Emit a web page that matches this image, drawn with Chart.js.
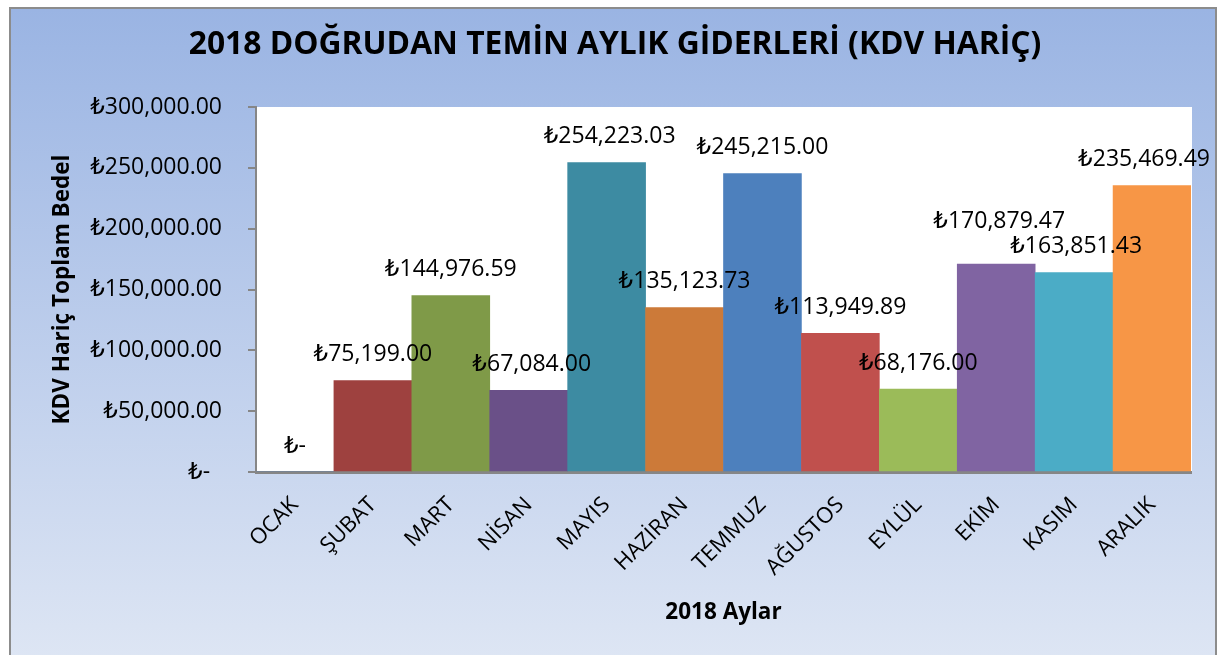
<!DOCTYPE html>
<html>
<head>
<meta charset="utf-8">
<script src="https://cdn.jsdelivr.net/npm/chart.js@4"></script>
<style>
  html, body { margin:0; padding:0; background:#ffffff; width:1220px; height:655px; overflow:hidden; }
  #frame { position:absolute; left:9px; top:7px; width:1208px; height:660px;
    border:2px solid #8c8c8c; box-sizing:border-box;
    background: linear-gradient(to bottom, #9ab4e3 0%, #dee6f4 100%); }
  #c { position:absolute; left:0; top:0; }
</style>
</head>
<body>
<div id="frame"></div>
<canvas id="c" width="1220" height="655"></canvas>
<script>
const months = ["OCAK","ŞUBAT","MART","NİSAN","MAYIS","HAZİRAN","TEMMUZ","AĞUSTOS","EYLÜL","EKİM","KASIM","ARALIK"];
const amounts = [0, 75199.00, 144976.59, 67084.00, 254223.03, 135123.73, 245215.00, 113949.89, 68176.00, 170879.47, 163851.43, 235469.49];
const barColors = ["#4f81bd","#9e413f","#7f9a48","#6a5088","#3d8ba2","#cc7a39","#4d80bd","#c0504d","#9bbb59","#8064a2","#4bacc6","#f79646"];
const chartTitle = "2018 DOĞRUDAN TEMİN AYLIK GİDERLERİ (KDV HARİÇ)";
const yTitle = "KDV Hariç Toplam Bedel";
const xTitle = "2018 Aylar";

const FONT = "'Open Sans', 'DejaVu Sans', sans-serif";
function tl(v) {
  if (v === 0) return "₺-";
  return "₺" + v.toLocaleString("en-US", {minimumFractionDigits:2, maximumFractionDigits:2});
}

// per-label nudges (pixels) to mimic manual placement
const labelNudge = { 9: {dx: 3, dy: -17}, 10: {dx: 2, dy: 0}, 11: {dx: -8, dy: 0}, 4: {dx: 3, dy: 0}, 3: {dx: 3, dy: 0} };

const dataLabels = {
  id: 'dataLabels',
  afterDatasetsDraw(chart) {
    const ctx = chart.ctx;
    const meta = chart.getDatasetMeta(0);
    ctx.save();
    ctx.font = "23px " + FONT;
    ctx.fillStyle = "#000";
    ctx.textAlign = "center";
    ctx.textBaseline = "middle";
    meta.data.forEach((bar, i) => {
      const n = labelNudge[i] || {dx:0, dy:0};
      ctx.fillText(tl(amounts[i]), bar.x + n.dx, bar.y - 26 + n.dy);
    });
    ctx.restore();
  }
};

const titlePlugin = {
  id: 'chartTitle',
  afterDraw(chart) {
    const ctx = chart.ctx;
    ctx.save();
    ctx.font = "bold 31.8px " + FONT;
    ctx.fillStyle = "#000";
    ctx.textAlign = "center";
    ctx.textBaseline = "middle";
    ctx.fillText(chartTitle, 615, 45);
    ctx.restore();
  }
};

new Chart(document.getElementById('c'), {
  type: 'bar',
  data: {
    labels: months,
    datasets: [{
      data: amounts,
      backgroundColor: barColors,
      borderWidth: 0,
      categoryPercentage: 1.0,
      barPercentage: 1.0
    }]
  },
  options: {
    responsive: false,
    animation: false,
    layout: { padding: { left: 0, right: 29, top: 107, bottom: 0 } },
    plugins: {
      legend: { display: false },
      tooltip: { enabled: false },
      title: { display: false }
    },
    scales: {
      x: {
        grid: { display: false, drawTicks: false },
        border: { display: true, color: "#868686", width: 3 },
        ticks: {
          color: "#000",
          font: { family: FONT, size: 22 },
          minRotation: 45, maxRotation: 45,
          padding: 20,
          autoSkip: false
        },
        title: {
          display: true, text: xTitle, color: "#000",
          font: { family: FONT, size: 22.5, weight: 'bold' },
          padding: { top: 0, bottom: 29 }
        },
        afterFit(scale) { scale.height = 183; }
      },
      y: {
        min: 0, max: 300000,
        grid: { drawOnChartArea: false, drawTicks: true, tickLength: 8, color: "#868686", lineWidth: 2 },
        border: { display: true, color: "#868686", width: 2 },
        ticks: {
          stepSize: 50000,
          color: "#000",
          font: { family: FONT, size: 23 },
          padding: 26,
          callback: (v) => v === 0 ? "₺-  " : tl(v)
        },
        title: {
          display: true, text: yTitle, color: "#000",
          font: { family: FONT, size: 22.5, weight: 'bold' },
          padding: { top: 49, bottom: 0 }
        },
        afterFit(scale) { scale.width = 256; }
      }
    }
  },
  plugins: [{
    id: 'plotBg',
    beforeDraw(chart) {
      const {ctx, chartArea: a} = chart;
      ctx.save();
      ctx.fillStyle = "#ffffff";
      ctx.fillRect(a.left, a.top, a.right - a.left + 1, a.bottom - a.top);
      ctx.restore();
    }
  }, dataLabels, titlePlugin]
});
</script>
</body>
</html>
